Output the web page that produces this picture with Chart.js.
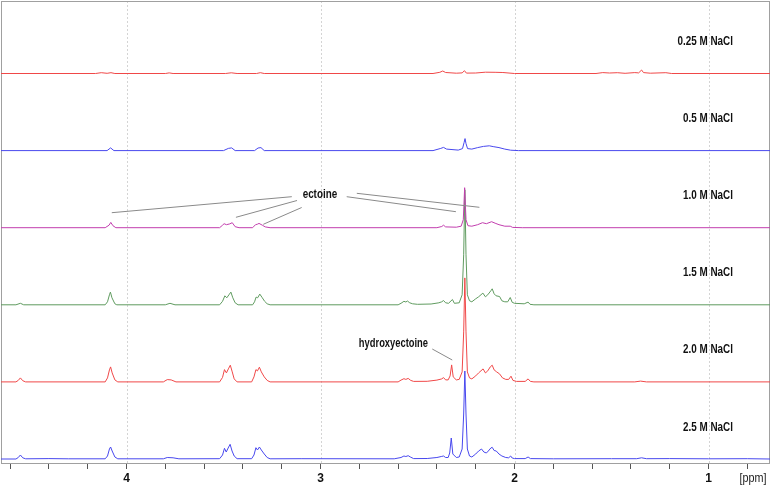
<!DOCTYPE html>
<html>
<head>
<meta charset="utf-8">
<script src="https://cdn.jsdelivr.net/npm/chart.js@4/dist/chart.umd.min.js"></script>
<style>
  html, body { margin: 0; padding: 0; background: #fff; }
  #wrap { width: 772px; height: 485px; }
</style>
</head>
<body>
<div id="wrap"><canvas id="myChart" width="772" height="485"></canvas></div>
<script>
// sample names, top to bottom
const samples = ['0.25 M NaCl', '0.5 M NaCl', '1.0 M NaCl', '1.5 M NaCl', '2.0 M NaCl', '2.5 M NaCl'];
const colors = ['#f04848', '#4848ee', '#c23eae', '#5f9b5f', '#f04848', '#4848ee'];

// [ppm, intensity]
const nacl025 = [
  [4.647, 0], [4.16, 0], [4.13, 0.8], [4.10, 0.2], [4.08, 0.8], [4.06, 0], [3.80, 0], [3.78, 0.6], [3.76, 0],
  [3.49, 0], [3.46, 0.7], [3.43, 0], [3.33, 0], [3.31, 0.8], [3.29, 0], [2.42, 0], [2.385, 1.2], [2.37, 2.5],
  [2.355, 1], [2.30, 0.3], [2.27, 0.6], [2.258, 2.8], [2.248, 0.4], [2.20, 0.5], [2.15, 1.3], [2.10, 1.2],
  [2.06, 1], [2.0, 0], [1.58, 0], [1.545, 0.9], [1.51, 0.5], [1.47, 0.8], [1.43, 0.2], [1.38, 0.9], [1.36, 0.6],
  [1.345, 3.5], [1.335, 0.9], [1.30, 0.3], [1.22, 0.8], [1.19, 0], [0.683, 0]
];
const nacl05 = [
  [4.647, 0], [4.10, 0], [4.082, 2.7], [4.065, 0], [3.50, 0], [3.475, 2.2], [3.458, 2.7], [3.44, 0],
  [3.34, 0], [3.322, 2.6], [3.307, 3], [3.29, 0], [2.42, 0], [2.38, 2.2], [2.366, 3.2], [2.35, 1.5],
  [2.29, 0.5], [2.268, 2], [2.26, 8], [2.255, 12], [2.25, 7], [2.242, 2], [2.22, 1.5], [2.19, 3], [2.16, 4.2],
  [2.13, 4.8], [2.11, 4], [2.08, 3], [2.05, 1.5], [2.02, 0.4], [1.98, 0], [0.683, 0]
];
const nacl10 = [
  [4.647, 0], [4.11, 0], [4.09, 2.5], [4.081, 5.3], [4.07, 2], [4.055, 0], [3.52, 0], [3.505, 2.5],
  [3.497, 4], [3.485, 3], [3.468, 3.8], [3.455, 5], [3.44, 1], [3.42, 0], [3.35, 0], [3.335, 3], [3.325, 3.5],
  [3.317, 4.3], [3.30, 2.5], [3.285, 0.8], [3.26, 0], [2.40, 0], [2.375, 1.2], [2.366, 2.5], [2.355, 0.8],
  [2.30, 0.5], [2.275, 1.5], [2.264, 8], [2.257, 40], [2.25, 8], [2.24, 2], [2.22, 1.5], [2.19, 3], [2.165, 5],
  [2.145, 4], [2.118, 6], [2.10, 4.5], [2.08, 3], [2.05, 1.5], [2.022, 1.5], [2.01, 0.3], [1.96, 0], [0.683, 0]
];
const nacl15 = [
  [4.647, 0], [4.57, 0], [4.547, 1.5], [4.53, 0], [4.11, 0], [4.098, 3], [4.088, 10], [4.083, 12.7], [4.075, 7],
  [4.06, 1], [4.05, 0], [3.80, 0], [3.776, 1.5], [3.75, 0], [3.52, 0], [3.505, 3.5], [3.493, 9], [3.483, 7],
  [3.472, 10], [3.462, 12.7], [3.452, 7], [3.44, 2], [3.425, 0], [3.35, 0], [3.34, 3], [3.332, 7.7], [3.324, 7],
  [3.313, 10.7], [3.30, 7], [3.288, 3.5], [3.275, 1], [3.26, 0], [2.60, 0], [2.585, 1.5], [2.57, 3.5], [2.56, 2.8],
  [2.552, 3.8], [2.54, 2], [2.525, 1], [2.50, 0.5], [2.43, 0.8], [2.39, 2], [2.375, 3], [2.366, 4.3], [2.355, 2],
  [2.34, 1.5], [2.32, 5.3], [2.31, 1.5], [2.285, 2], [2.27, 10], [2.262, 50], [2.256, 115], [2.25, 50],
  [2.243, 10], [2.232, 4], [2.22, 3], [2.20, 6], [2.185, 8], [2.163, 11.7], [2.15, 8], [2.138, 10], [2.122, 14],
  [2.115, 16], [2.105, 11], [2.095, 9], [2.077, 8.3], [2.065, 4], [2.05, 3], [2.035, 3], [2.022, 7.3],
  [2.012, 2.5], [2.0, 1.5], [1.95, 1], [1.93, 2.7], [1.92, 0.5], [1.90, 0], [0.683, 0]
];
const nacl20 = [
  [4.647, 0], [4.57, 0], [4.558, 1.5], [4.547, 4], [4.535, 1.2], [4.52, 0], [4.11, 0], [4.098, 4], [4.088, 12],
  [4.082, 15], [4.074, 9], [4.06, 2], [4.045, 0], [3.81, 0], [3.79, 2.3], [3.77, 2], [3.745, 0], [3.52, 0],
  [3.505, 4.5], [3.495, 12.3], [3.485, 9], [3.475, 13], [3.465, 16.7], [3.455, 10], [3.445, 3], [3.43, 0],
  [3.355, 0], [3.343, 5], [3.333, 12.3], [3.325, 11], [3.315, 14.7], [3.305, 10], [3.29, 5], [3.275, 1.5],
  [3.26, 0], [2.60, 0], [2.585, 1.8], [2.57, 3.2], [2.56, 2.5], [2.548, 3.5], [2.535, 1.5], [2.52, 0.5],
  [2.45, 0.6], [2.40, 1.8], [2.375, 3], [2.366, 4.3], [2.355, 2], [2.342, 2], [2.332, 6], [2.324, 17],
  [2.316, 5], [2.30, 2], [2.285, 2.5], [2.27, 10], [2.262, 50], [2.256, 104], [2.25, 50], [2.243, 10],
  [2.232, 4], [2.22, 3], [2.20, 6], [2.185, 9], [2.162, 13], [2.15, 9], [2.138, 11], [2.125, 15], [2.115, 16.7],
  [2.105, 12], [2.092, 10], [2.077, 8], [2.062, 4], [2.045, 2.5], [2.03, 2.5], [2.018, 5.7], [2.008, 1.5],
  [1.99, 0.5], [1.945, 0.5], [1.93, 3], [1.918, 0.5], [1.90, 0], [1.38, 0], [1.35, 0.8], [1.32, 0], [0.683, 0]
];
const nacl25 = [
  [4.647, 0], [4.57, 0], [4.558, 1.5], [4.547, 4], [4.535, 1.2], [4.52, 0.2], [4.40, 0.4], [4.30, 0.2],
  [4.11, 0.2], [4.098, 3], [4.088, 10], [4.082, 12], [4.074, 8], [4.06, 2], [4.045, 0.2], [3.81, 0.2],
  [3.79, 1.5], [3.76, 1.2], [3.73, 0.2], [3.52, 0.3], [3.505, 4], [3.495, 10.7], [3.486, 7], [3.476, 11],
  [3.466, 14.7], [3.456, 8], [3.445, 3], [3.43, 0.3], [3.355, 0.3], [3.343, 4], [3.333, 11.3], [3.325, 9],
  [3.315, 12], [3.305, 9], [3.29, 5], [3.275, 1.5], [3.26, 0.2], [3.10, 0.3], [2.62, 0.2], [2.585, 1.5],
  [2.57, 3], [2.56, 2.5], [2.548, 3.3], [2.535, 1.8], [2.52, 0.4], [2.45, 0.5], [2.40, 1.5], [2.375, 2.6],
  [2.366, 3], [2.355, 1.5], [2.342, 1.5], [2.334, 6], [2.326, 21], [2.318, 5], [2.30, 1.5], [2.285, 2],
  [2.27, 10], [2.262, 45], [2.256, 88], [2.25, 45], [2.243, 10], [2.232, 3], [2.22, 2], [2.20, 5],
  [2.185, 8], [2.17, 10], [2.158, 7], [2.145, 6], [2.135, 8], [2.122, 11], [2.115, 11.7], [2.105, 8.5],
  [2.094, 8], [2.08, 5], [2.065, 3], [2.045, 1.5], [2.03, 1.2], [2.02, 3], [2.012, 1], [2.0, 0.4],
  [1.945, 0.4], [1.93, 2], [1.918, 0.4], [1.80, 0.2], [1.50, 0.3], [1.37, 0.3], [1.345, 1.2], [1.32, 0.3],
  [1.20, 0.4], [1.0, 0.2], [0.80, 0.3], [0.683, 0]
];
const spectra = [nacl025, nacl05, nacl10, nacl15, nacl20, nacl25];

// minor ticks every 0.2 ppm, labels on whole numbers
const tickValues = [4.6, 4.4, 4.2, 4.0, 3.8, 3.6, 3.4, 3.2, 3.0, 2.8, 2.6, 2.4, 2.2, 2.0, 1.8, 1.6, 1.4, 1.2, 1.0, 0.8];

// peak assignment notes: leader lines, in [ppm, height] units
const ectoineLines = [
  [[4.076, 251.3], [3.148, 267.3]],
  [[3.436, 246.7], [3.121, 263.5]],
  [[3.295, 239.7], [3.097, 256.5]],
  [[2.813, 270.7], [2.181, 256.7]],
  [[2.865, 267.3], [2.302, 252.3]]
];
const hydroxyLine = [[2.424, 115], [2.321, 104]];

const step = 77.1;
const base = 5;
const offsetOf = i => base + (spectra.length - 1 - i) * step;

const datasets = spectra.map((s, i) => ({
    label: samples[i],
    data: s.map(([p, h]) => ({ x: p, y: h + offsetOf(i) })),
    borderColor: colors[i],
    borderWidth: 1,
    pointRadius: 0,
    tension: 0,
    fill: false,
    order: [1, 2, 3, 5, 4, 6][i]
}));

const FONT = '"Liberation Sans", Arial, sans-serif';

// condensed bold text like the original plot software
function narrowText(ctx, text, x, y, align, size, sx) {
    ctx.save();
    ctx.font = 'bold ' + size + 'px ' + FONT;
    ctx.textAlign = align;
    ctx.textBaseline = 'middle';
    ctx.translate(x, y);
    ctx.scale(sx, 1);
    ctx.fillText(text, 0, 0);
    ctx.restore();
}

const decor = {
    id: 'decor',
    beforeDatasetsDraw(chart) {
        const { ctx, chartArea: a, scales: { x } } = chart;
        ctx.save();
        ctx.strokeStyle = '#d4d4d4';
        ctx.lineWidth = 1;
        ctx.setLineDash([2, 2]);
        [4, 3, 2, 1].forEach(v => {
            const px = Math.round(x.getPixelForValue(v)) + 0.5;
            ctx.beginPath();
            ctx.moveTo(px, a.top);
            ctx.lineTo(px, a.bottom);
            ctx.stroke();
        });
        ctx.setLineDash([]);
        ctx.strokeStyle = '#a0a0a0';
        ctx.strokeRect(a.left + 0.5, a.top + 0.5, a.right - a.left - 1, a.bottom - a.top - 1);
        ctx.restore();
    },
    afterDatasetsDraw(chart) {
        const { ctx, scales: { x, y } } = chart;
        ctx.save();
        ctx.fillStyle = '#111';
        samples.forEach((s, i) => {
            narrowText(ctx, s, x.getPixelForValue(0.874), y.getPixelForValue(offsetOf(i) + 32), 'right', 13, 0.76);
        });

        ctx.strokeStyle = '#8a8a8a';
        ctx.lineWidth = 1;
        ectoineLines.concat([hydroxyLine]).forEach(([p0, p1]) => {
            ctx.beginPath();
            ctx.moveTo(x.getPixelForValue(p0[0]), y.getPixelForValue(p0[1]));
            ctx.lineTo(x.getPixelForValue(p1[0]), y.getPixelForValue(p1[1]));
            ctx.stroke();
        });
        narrowText(ctx, 'ectoine', x.getPixelForValue(3.003), y.getPixelForValue(269.5), 'center', 13, 0.76);
        narrowText(ctx, 'hydroxyectoine', x.getPixelForValue(2.624), y.getPixelForValue(120.7), 'center', 13, 0.72);

        ctx.fillStyle = '#222';
        ctx.save();
        ctx.font = '12px ' + FONT;
        ctx.textAlign = 'center';
        ctx.textBaseline = 'middle';
        ctx.translate(753, 479);
        ctx.scale(0.9, 1);
        ctx.fillText('[ppm]', 0, 0);
        ctx.restore();
        ctx.restore();
    }
};

new Chart(document.getElementById('myChart').getContext('2d'), {
    type: 'line',
    data: { datasets },
    options: {
        responsive: false,
        animation: false,
        events: [],
        layout: { padding: { left: 1, right: 2, top: 1, bottom: 0 } },
        plugins: { legend: { display: false }, tooltip: { enabled: false } },
        scales: {
            x: {
                type: 'linear',
                reverse: true,
                min: 0.683,
                max: 4.647,
                afterBuildTicks: s => { s.ticks = tickValues.map(v => ({ value: v })); },
                afterFit: s => { s.height = 21; },
                grid: { drawOnChartArea: false, drawTicks: true, tickLength: 5, tickColor: '#555', color: '#555' },
                border: { display: false },
                ticks: {
                    autoSkip: false,
                    maxRotation: 0,
                    padding: 2,
                    color: '#111',
                    font: { family: FONT, size: 12, weight: 'bold' },
                    callback: v => Math.abs(v - Math.round(v)) < 1e-6 ? String(Math.round(v)) : ''
                }
            },
            y: { display: false, min: 0, max: 463 }
        }
    },
    plugins: [decor]
});
</script>
</body>
</html>
